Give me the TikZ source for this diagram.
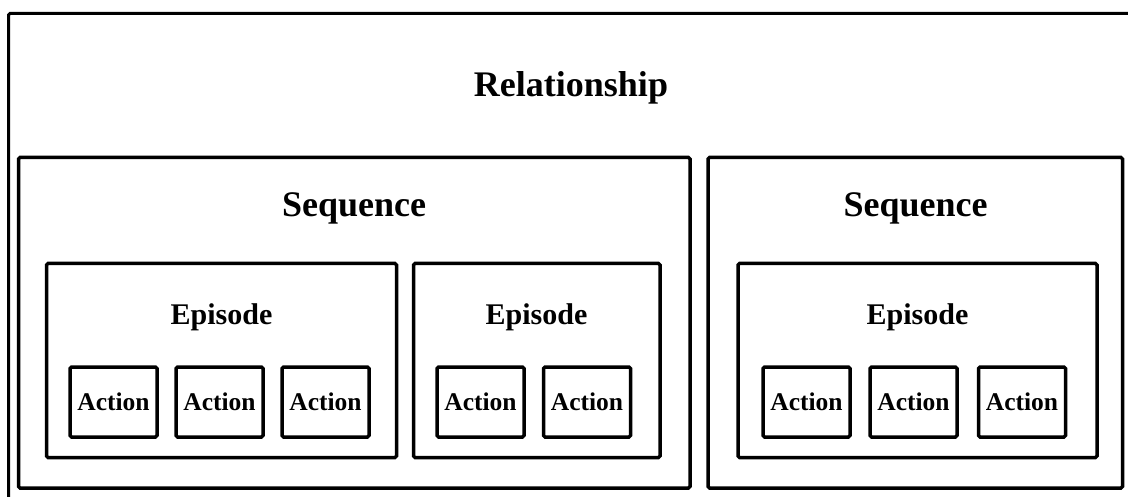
\documentclass[tikz,border=0pt]{standalone}
\usepackage{fontspec}
\setmainfont{Liberation Serif}
\begin{document}
\begin{tikzpicture}[x=1pt,y=-1pt,
  frame/.style={draw=black,line width=3.5pt,rounded corners=1.5pt},
  title/.style={anchor=base,inner sep=0pt,font=\bfseries\fontsize{36}{40}\selectfont},
  eptitle/.style={anchor=base,inner sep=0pt,font=\bfseries\fontsize{30}{34}\selectfont},
  actbox/.style={frame,minimum width=87pt,minimum height=70pt,inner sep=0pt,
    font=\bfseries\fontsize{25.5}{28}\selectfont,text depth=0pt}]
  \path[use as bounding box,clip] (0,0) rectangle (1128,497);
  \fill[white] (0,0) rectangle (1128,497);

  % outer relationship frame (runs past the right and lower edges)
  \draw[frame,line width=3pt] (8.5,13.5) rectangle (1136,512);
  \node[title] (rel) at (571,97) {Relationship};

  % sequences
  \draw[frame] (18.5,157.5) rectangle (690,488);
  \node[title] (seqA) at (354,217) {Sequence};
  \draw[frame] (708,157.5) rectangle (1122.5,488);
  \node[title] (seqB) at (915.5,217) {Sequence};

  % episodes
  \draw[frame] (46.5,263.5) rectangle (396.5,457.5);
  \node[eptitle] (epA) at (221.5,325) {Episode};
  \draw[frame] (413.5,263.5) rectangle (660,457.5);
  \node[eptitle] (epB) at (536.5,325) {Episode};
  \draw[frame] (738,263.5) rectangle (1097,457.5);
  \node[eptitle] (epC) at (917.5,325) {Episode};

  % actions
  \node[actbox] (a1) at (113.5,402) {Action};
  \node[actbox] (a2) at (219.5,402) {Action};
  \node[actbox] (a3) at (325.5,402) {Action};
  \node[actbox] (b1) at (480.5,402) {Action};
  \node[actbox] (b2) at (587,402) {Action};
  \node[actbox] (c1) at (806.5,402) {Action};
  \node[actbox] (c2) at (913.5,402) {Action};
  \node[actbox] (c3) at (1022,402) {Action};
\end{tikzpicture}
\end{document}
